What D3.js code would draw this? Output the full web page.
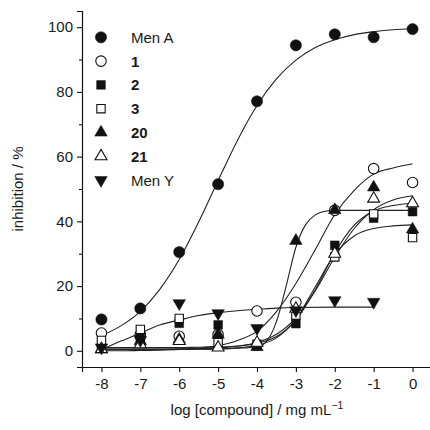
<!DOCTYPE html>
<html lang="en">
<head>
    <meta charset="UTF-8">
    <title>Inhibition</title>
    <script src="https://d3js.org/d3.v7.min.js"></script>
    <style>
        body { margin: 0; background: #fff; }
        text { font-family: "Liberation Sans", Arial, sans-serif; fill: #1a1a1a; }
    </style>
</head>
<body>
    <script>
// measured points, one value per log concentration
var logConc = [-8, -7, -6, -5, -4, -3, -2, -1, 0];
var menA = [9.7, 13.1, 30.5, 51.5, 77.1, 94.4, 97.8, 96.9, 99.4];
var c1 = [5.5, 5, 4.5, 5, 12.3, 15, 43.4, 56.3, 52];
var c2 = [1, 4, 8.5, 8, 1.5, 8.4, 32.6, 41, 43];
var c3 = [3.2, 6.6, 10, 2.5, 2, 11, 29, 42.3, 35];
var c20 = [0.5, 3, 3.5, 5, 1.2, 34, 43.5, 50.5, 37.5];
var c21 = [0.5, 2, 3, 1, 2.5, 13, 30, 47, 45.6];
var menY = [1, 3.3, 14.7, 11.6, 7, 12.5, 15.6, 15.1]; // no point at 0

// fitted curves
var fitXHalf = [-8, -7.5, -7, -6.5, -6, -5.5, -5, -4.5, -4, -3.5, -3, -2.5, -2, -1.5, -1, -0.5, 0];
var fitMenA = [4.7, 7.7, 12.2, 19, 28.2, 39.8, 52.6, 65.1, 75.8, 84, 89.8, 93.7, 96.1, 97.7, 98.6, 99.2, 99.5];
var fit1 = [0, 0, 0.1, 0.2, 0.4, 0.8, 1.6, 3.2, 6, 12.1, 20.8, 31.3, 42.1, 49.6, 54.6, 56.5, 57.8];
var fit2 = [1, 1, 1, 1, 1, 1.1, 1.2, 1.5, 2.3, 4.4, 9.5, 18.9, 30.3, 38.8, 43.2, 44.9, 45.6];
var fit3 = [0.5, 0.5, 0.5, 0.5, 0.5, 0.5, 0.6, 0.9, 1.7, 4, 9.8, 19.8, 29.8, 35.5, 37.8, 38.6, 38.9];
var fit21 = [0.5, 0.5, 0.5, 0.5, 0.6, 0.7, 0.9, 1.4, 2.6, 5.1, 10.2, 18.6, 28.9, 37.8, 43.6, 46.6, 47.9];
var fit20X = [-8, -6, -5, -4.5, -4, -3.75, -3.5, -3.25, -3, -2.75, -2.5, -2.25, -2, -1, 0];
var fit20 = [0.5, 0.5, 0.6, 0.8, 1.2, 3, 9, 20, 32, 39, 42, 43.1, 43.4, 43.4, 43.4];
var fitMenYX = [-8, -7.5, -7, -6.5, -6, -5.5, -5, -4.5, -4, -3.5, -3, -2, -1];
var fitMenY = [0.3, 3, 5.5, 8, 9.5, 10.9, 11.8, 12.4, 12.8, 13.2, 13.4, 13.5, 13.5];

var xTicks = [-8, -7, -6, -5, -4, -3, -2, -1, 0];
var yTicks = [0, 20, 40, 60, 80, 100];
var yMinor = [10, 30, 50, 70, 90];

var width = 430, height = 430;

var x = d3.scaleLinear().domain([-8.5, 0.5]).range([82, 432]);
var y = d3.scaleLinear().domain([-5, 105]).range([367, 11]);

var svg = d3.select('body').append('svg')
    .attr('width', width)
    .attr('height', height);

// marker shapes
var shapes = {
    fillCircle: { type: d3.symbolCircle, size: 100, fill: '#111', rot: 0 },
    openCircle: { type: d3.symbolCircle, size: 86, fill: '#fff', rot: 0 },
    fillSquare: { type: d3.symbolSquare, size: 76, fill: '#111', rot: 0 },
    openSquare: { type: d3.symbolSquare, size: 70, fill: '#fff', rot: 0 },
    fillUp: { type: d3.symbolTriangle, size: 68, fill: '#111', rot: 0 },
    openUp: { type: d3.symbolTriangle, size: 62, fill: '#fff', rot: 0 },
    fillDown: { type: d3.symbolTriangle, size: 68, fill: '#111', rot: 180 }
};

var series = [
    { name: 'Men A', bold: false, vals: menA, shape: 'fillCircle', fx: fitXHalf, fy: fitMenA },
    { name: '1', bold: true, vals: c1, shape: 'openCircle', fx: fitXHalf, fy: fit1 },
    { name: '2', bold: true, vals: c2, shape: 'fillSquare', fx: fitXHalf, fy: fit2 },
    { name: '3', bold: true, vals: c3, shape: 'openSquare', fx: fitXHalf, fy: fit3 },
    { name: '20', bold: true, vals: c20, shape: 'fillUp', fx: fit20X, fy: fit20 },
    { name: '21', bold: true, vals: c21, shape: 'openUp', fx: fitXHalf, fy: fit21 },
    { name: 'Men Y', bold: false, vals: menY, shape: 'fillDown', fx: fitMenYX, fy: fitMenY }
];

var line = d3.line()
    .x(function(d) { return x(d[0]); })
    .y(function(d) { return y(d[1]); })
    .curve(d3.curveMonotoneX);

// curves
series.forEach(function(s) {
    svg.append('path')
        .datum(d3.zip(s.fx, s.fy))
        .attr('d', line)
        .attr('fill', 'none')
        .attr('stroke', '#222')
        .attr('stroke-width', 1.1);
});

function marker(sel, shapeKey) {
    var sh = shapes[shapeKey];
    sel.attr('d', d3.symbol().type(sh.type).size(sh.size))
        .attr('fill', sh.fill)
        .attr('stroke', '#111')
        .attr('stroke-width', sh.fill === '#fff' ? 1.1 : 0.5);
    return sh;
}

// points
series.forEach(function(s) {
    var pts = d3.zip(logConc.slice(0, s.vals.length), s.vals);
    svg.append('g').selectAll('path')
        .data(pts)
        .join('path')
        .each(function(d) {
            var sh = marker(d3.select(this), s.shape);
            d3.select(this).attr('transform',
                'translate(' + x(d[0]) + ',' + y(d[1]) + ') rotate(' + sh.rot + ')');
        });
});

// axes
var xAxis = d3.axisBottom(x).tickValues(xTicks).tickSize(5).tickPadding(6)
    .tickFormat(function(d) { return d < 0 ? '-' + Math.abs(d) : d; });
var gx = svg.append('g')
    .attr('transform', 'translate(0,' + y(-5) + ')')
    .call(xAxis);

var yAxis = d3.axisLeft(y).tickValues(yTicks).tickSize(5).tickPadding(4);
var gy = svg.append('g')
    .attr('transform', 'translate(' + x(-8.5) + ',0)')
    .call(yAxis);

svg.append('g')
    .attr('transform', 'translate(' + x(-8.5) + ',0)')
    .call(d3.axisLeft(y).tickValues(yMinor).tickSize(3).tickFormat(''))
    .select('.domain').remove();

[gx, gy].forEach(function(g) {
    g.select('.domain').attr('stroke', '#111').attr('stroke-width', 1.2);
    g.selectAll('.tick text')
        .style('font-family', '"Liberation Sans", Arial, sans-serif')
        .style('font-size', '15px')
        .attr('fill', '#1a1a1a');
});
svg.selectAll('.tick line').attr('stroke', '#111').attr('stroke-width', 1.1);

// axis titles
var xt = svg.append('text')
    .attr('x', 257).attr('y', 415)
    .attr('text-anchor', 'middle')
    .style('font-size', '15px');
xt.append('tspan').text('log [compound] / mg mL');
xt.append('tspan').attr('dy', -6).style('font-size', '10.5px').text('\u22121');

svg.append('text')
    .attr('transform', 'translate(23,189) rotate(-90)')
    .attr('text-anchor', 'middle')
    .style('font-size', '15px')
    .text('inhibition / %');

// legend
var legend = svg.append('g');
series.forEach(function(s, i) {
    var ly = 37.3 + i * 23.8;
    var p = legend.append('path');
    var sh = marker(p, s.shape);
    p.attr('transform', 'translate(101,' + ly + ') rotate(' + sh.rot + ')');
    legend.append('text')
        .attr('x', 131).attr('y', ly + 5.5)
        .style('font-size', '15px')
        .style('font-weight', s.bold ? 'bold' : 'normal')
        .text(s.name);
});
    </script>
</body>
</html>
